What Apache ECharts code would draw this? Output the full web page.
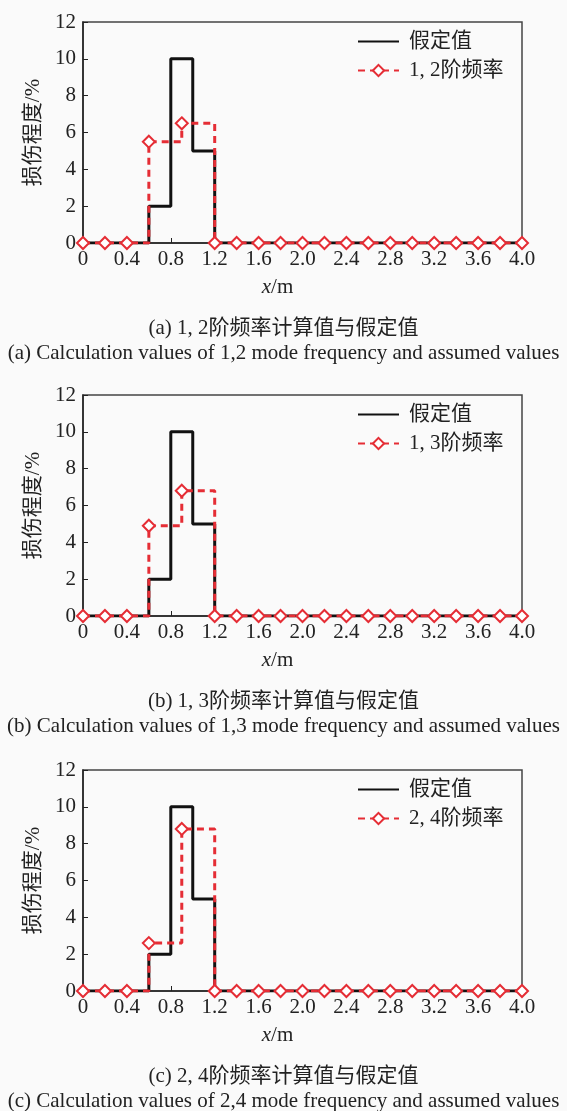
<!DOCTYPE html>
<html>
<head>
<meta charset="utf-8">
<script src="https://cdn.jsdelivr.net/npm/echarts@6/dist/echarts.min.js"></script>
<style>
  html, body { margin: 0; padding: 0; background: #fafafa; }
  #chart { width: 567px; height: 1111px; }
</style>
</head>
<body>
<div id="chart"></div>
<script>
// 假定值（损伤程度, %）
const assumedX = [0, 0.2, 0.4, 0.6, 0.8, 1.0, 1.2, 1.4, 1.6, 1.8, 2.0, 2.2, 2.4, 2.6, 2.8, 3.0, 3.2, 3.4, 3.6, 3.8, 4.0];
const assumedY = [0, 0, 0, 2, 10, 5, 0, 0, 0, 0, 0, 0, 0, 0, 0, 0, 0, 0, 0, 0, 0];

// 计算值的单元位置
const calcX = [0, 0.2, 0.4, 0.6, 0.9, 1.2, 1.4, 1.6, 1.8, 2.0, 2.2, 2.4, 2.6, 2.8, 3.0, 3.2, 3.4, 3.6, 3.8, 4.0];
const calcY12 = [0, 0, 0, 5.5, 6.5, 0, 0, 0, 0, 0, 0, 0, 0, 0, 0, 0, 0, 0, 0, 0];
const calcY13 = [0, 0, 0, 4.9, 6.8, 0, 0, 0, 0, 0, 0, 0, 0, 0, 0, 0, 0, 0, 0, 0];
const calcY24 = [0, 0, 0, 2.6, 8.8, 0, 0, 0, 0, 0, 0, 0, 0, 0, 0, 0, 0, 0, 0, 0];

const calcNames = ['1, 2阶频率', '1, 3阶频率', '2, 4阶频率'];
const captionsCn = ['(a) 1, 2阶频率计算值与假定值', '(b) 1, 3阶频率计算值与假定值', '(c) 2, 4阶频率计算值与假定值'];
const captionsEn = [
  '(a) Calculation values of 1,2 mode frequency and assumed values',
  '(b) Calculation values of 1,3 mode frequency and assumed values',
  '(c) Calculation values of 2,4 mode frequency and assumed values'
];
const calcSets = [calcY12, calcY13, calcY24];

const FONT = "'Liberation Serif', 'Times New Roman', 'Noto Sans CJK SC', serif";
const RED = '#e52d35';
const TEXT = '#222';
const FS = 21;
const gridTops = [22, 395, 770];
const gridH = 221;

function pairs(xs, ys) {
  return xs.map((x, i) => [x, ys[i]]);
}

let grids = [], xAxes = [], yAxes = [], series = [], legends = [], titles = [];

gridTops.forEach((top, k) => {
  grids.push({
    left: 83, right: 45, top: top, height: gridH,
    show: true, borderColor: '#444', borderWidth: 1.5, backgroundColor: 'transparent'
  });
  xAxes.push({
    type: 'value', gridIndex: k, min: 0, max: 4, interval: 0.4,
    name: '{i|x}/m', nameLocation: 'middle', nameGap: 34,
    nameTextStyle: {
      fontFamily: FONT, fontSize: FS, color: TEXT, padding: [0, 50, 0, 0],
      rich: { i: { fontStyle: 'italic', fontFamily: FONT, fontSize: FS, color: TEXT } }
    },
    axisLine: { onZero: false, lineStyle: { color: '#222', width: 1.5 } },
    axisTick: { inside: true, length: 5, lineStyle: { color: '#222' } },
    splitLine: { show: false },
    axisLabel: {
      fontFamily: FONT, fontSize: FS, color: TEXT, margin: 6,
      formatter: v => v === 0 ? '0' : v.toFixed(1)
    }
  });
  yAxes.push({
    type: 'value', gridIndex: k, min: 0, max: 12, interval: 2,
    name: '损伤程度/%', nameLocation: 'middle', nameGap: 39,
    nameTextStyle: { fontFamily: FONT, fontSize: FS, color: TEXT },
    axisLine: { show: true, lineStyle: { color: '#222', width: 1.5 } },
    axisTick: { inside: true, length: 5, lineStyle: { color: '#222' } },
    splitLine: { show: false },
    axisLabel: { fontFamily: FONT, fontSize: FS, color: TEXT, margin: 7 }
  });
  series.push({
    name: '假定值', type: 'line', xAxisIndex: k, yAxisIndex: k,
    step: 'end', symbol: 'none',
    data: pairs(assumedX, assumedY),
    lineStyle: { color: '#111', width: 3 },
    itemStyle: { color: '#111' },
    z: 2
  });
  series.push({
    name: calcNames[k], type: 'line', xAxisIndex: k, yAxisIndex: k,
    step: 'end', symbol: 'emptyDiamond', symbolSize: 12,
    data: pairs(calcX, calcSets[k]),
    lineStyle: { color: RED, width: 3, type: [7, 5] },
    itemStyle: { color: RED, borderColor: RED, borderWidth: 3 },
    z: 3
  });
  legends.push({
    orient: 'vertical', left: 352, top: top + 4, itemGap: 8,
    itemWidth: 41, itemHeight: 14,
    data: [
      { name: '假定值', itemStyle: { opacity: 0 } },
      { name: calcNames[k] }
    ],
    textStyle: { fontFamily: FONT, fontSize: FS, color: TEXT, padding: [0, 0, 0, 5] },
    selectedMode: false
  });
  const axisY = top + gridH;
  titles.push({
    text: captionsCn[k], left: 'center', top: axisY + 70,
    textStyle: { fontFamily: FONT, fontSize: FS, fontWeight: 'normal', color: TEXT }
  });
  titles.push({
    text: captionsEn[k], left: 'center', top: axisY + 95,
    textStyle: { fontFamily: FONT, fontSize: FS, fontWeight: 'normal', color: TEXT }
  });
});

const chart = echarts.init(document.getElementById('chart'));
chart.setOption({
  backgroundColor: '#fafafa',
  animation: false,
  title: titles,
  legend: legends,
  grid: grids,
  xAxis: xAxes,
  yAxis: yAxes,
  series: series
});
</script>
</body>
</html>
